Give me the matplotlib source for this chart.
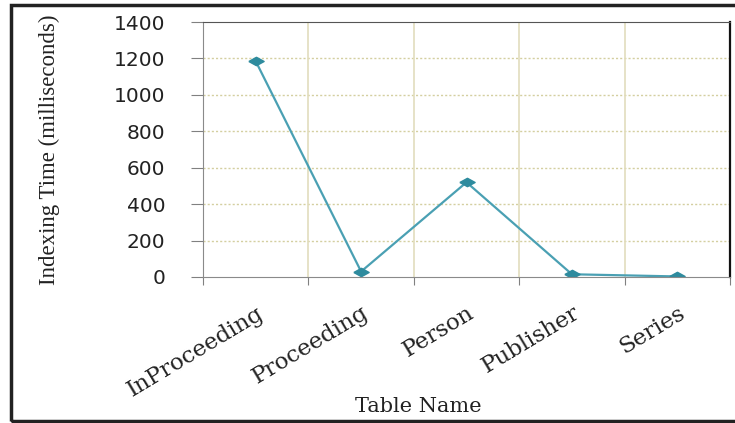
import numpy as np
import matplotlib
matplotlib.use('Agg')
import matplotlib.pyplot as plt
from matplotlib.patches import Rectangle
from matplotlib.transforms import ScaledTranslation

# values
tables = ['InProceeding', 'Proceeding', 'Person', 'Publisher', 'Series']
index_time = [1185, 30, 520, 15, 3]
y_ticks = [0, 200, 400, 600, 800, 1000, 1200, 1400]

fig = plt.figure(figsize=(7.35, 4.23), dpi=100)
ax = fig.add_axes([203/735, 1 - 277/423, 527/735, 255/423])

# wide flat diamond, like the stretched original
diamond = [(-1, 0), (0, 0.55), (1, 0), (0, -0.55), (-1, 0)]
x = np.arange(len(tables))
ax.plot(x, index_time, color='#4aa0b3', linewidth=1.6,
        marker=diamond, markersize=11, markerfacecolor='#2e8b9e',
        markeredgecolor='#2e8b9e')

ax.set_xlim(-0.5, len(tables) - 0.5)
ax.set_ylim(0, 1400)
ax.set_yticks(y_ticks)

# ticks on category boundaries, labels on the centres
ax.set_xticks(np.arange(-0.5, len(tables)))
ax.set_xticklabels([])
ax.set_xticks(x, minor=True)
ax.set_xticklabels(tables, minor=True, rotation=31, ha='right', va='top',
                   rotation_mode='anchor', family='DejaVu Serif', fontsize=16.5,
                   color='#222222')
shift = ScaledTranslation(17/72, 0, fig.dpi_scale_trans)
for lab in ax.get_xticklabels(minor=True):
    lab.set_transform(lab.get_transform() + shift)
ax.tick_params(axis='x', which='minor', length=0, pad=18)
ax.tick_params(axis='x', which='major', length=6, color='#808080', direction='out')
ax.tick_params(axis='y', length=9, color='#808080', direction='out', pad=18,
               labelsize=14.5, labelcolor='#222222')
for lab in ax.get_yticklabels():
    lab.set_family('DejaVu Sans')

# grid
for v in y_ticks[1:-1]:
    ax.axhline(v, color='#d4cfa0', linewidth=1, linestyle=(0, (1.5, 1.5)), zorder=0)
for b in np.arange(0.5, len(tables) - 1):
    ax.axvline(b, color='#e2ddbd', linewidth=1.2, zorder=0)

ax.spines['left'].set_color('#8a8a8a')
ax.spines['bottom'].set_color('#8a8a8a')
ax.spines['top'].set_color('#555555')
ax.spines['right'].set_color('#111111')
ax.spines['right'].set_linewidth(1.6)

ax.set_ylabel('Indexing Time (milliseconds)', family='Liberation Serif',
              fontsize=16.5, color='#222222')
ax.yaxis.set_label_coords(-0.272, 0.5)
ax.set_xlabel('Table Name', family='DejaVu Serif', fontsize=15, color='#222222')
ax.xaxis.set_label_coords(0.408, -0.47)

# outer frame round the whole chart
fig.patches.append(Rectangle((11/735, 2/423), 730/735, 416/423, transform=fig.transFigure,
                             fill=False, edgecolor='#222222', linewidth=2.5))

fig.savefig('out.png', dpi=100)
